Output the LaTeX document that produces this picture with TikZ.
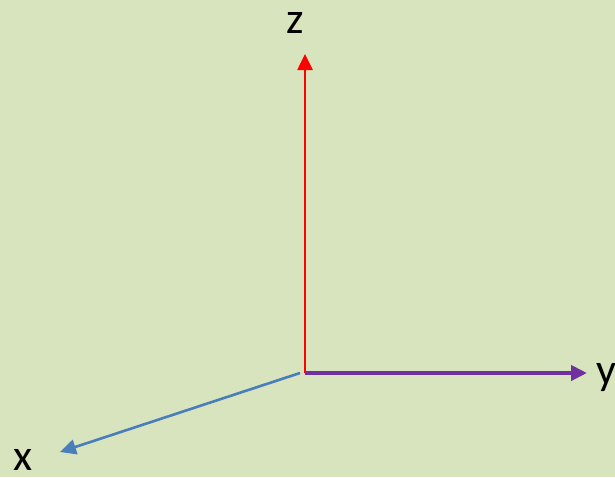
\documentclass[tikz,border=0pt]{standalone}
\usepackage{fontspec}
\setmainfont{Carlito}
\usetikzlibrary{arrows.meta}
\definecolor{bg}{HTML}{D7E4BD}
\definecolor{zred}{HTML}{FF0000}
\definecolor{ypurple}{HTML}{7030A0}
\definecolor{xblue}{HTML}{4A7EBB}
\begin{document}
\begin{tikzpicture}[x=1pt,y=-1pt,
  axis/.style={-{Triangle[length=16pt,width=15pt]}},
  lbl/.style={inner sep=0pt,font=\fontsize{44}{44}\selectfont}]
\fill[bg] (0,0) rectangle (615,477);
\useasboundingbox (0,0) rectangle (615,477);
\coordinate (O) at (305,373);
\coordinate (Ox) at (300,373);
\coordinate (Z) at (305,54);
\coordinate (Y) at (587,373);
\coordinate (X) at (60,452);
\draw[axis, zred, line width=2.6pt] (O) -- (Z);
\draw[axis, ypurple, line width=4.5pt] (O) -- (Y);
\draw[axis, xblue, line width=2.6pt] (Ox) -- (X);
\node[lbl, anchor=base] (zl) at (295,33) {z};
\node[lbl, anchor=base west] (yl) at (596,384) {y};
\node[lbl, anchor=base] (xl) at (23,470) {x};
\end{tikzpicture}
\end{document}
